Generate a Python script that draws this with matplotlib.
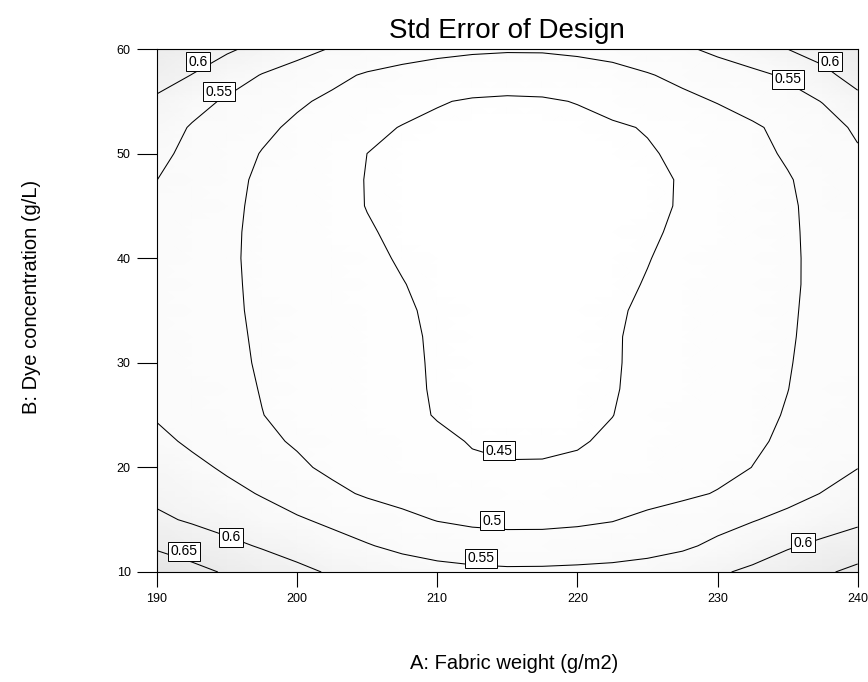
import matplotlib
matplotlib.use("Agg")
import matplotlib.pyplot as plt
import numpy as np
from matplotlib.colors import LinearSegmentedColormap

# grid: A (fabric weight) columns, B (dye conc.) rows
fabric_weight = [190, 192.5, 195, 197.5, 200, 202.5, 205, 207.5, 210, 212.5, 215,
                 217.5, 220, 222.5, 225, 227.5, 230, 232.5, 235, 237.5, 240]
dye_conc = [10, 12.5, 15, 17.5, 20, 22.5, 25, 27.5, 30, 32.5, 35,
            37.5, 40, 42.5, 45, 47.5, 50, 52.5, 55, 57.5, 60]

# std error of design, one row per dye concentration (bottom to top)
std_error = [
    [0.686, 0.664, 0.645, 0.628, 0.611, 0.595, 0.583, 0.574, 0.5655, 0.5605, 0.558, 0.5585, 0.5605, 0.563, 0.568, 0.5775, 0.594, 0.609, 0.626, 0.643, 0.662],
    [0.642, 0.627, 0.611, 0.596, 0.5816, 0.5672, 0.553, 0.5393, 0.529, 0.5224, 0.5193, 0.5194, 0.522, 0.5266, 0.5336, 0.543, 0.559, 0.5765, 0.5955, 0.61, 0.623],
    [0.608, 0.5947, 0.5814, 0.568, 0.5548, 0.5406, 0.5259, 0.5112, 0.4981, 0.4911, 0.4883, 0.4886, 0.492, 0.4978, 0.5104, 0.5228, 0.5351, 0.5475, 0.5617, 0.5764, 0.591],
    [0.589, 0.5753, 0.5616, 0.5471, 0.5287, 0.5103, 0.4946, 0.4843, 0.4766, 0.4716, 0.4692, 0.4694, 0.4717, 0.4761, 0.4826, 0.4912, 0.5026, 0.5189, 0.5351, 0.5515, 0.5698],
    [0.5747, 0.56, 0.5441, 0.5257, 0.5074, 0.4909, 0.4778, 0.4674, 0.4597, 0.4546, 0.4522, 0.4524, 0.4548, 0.4594, 0.4663, 0.4753, 0.4866, 0.5005, 0.5163, 0.5327, 0.549],
    [0.56, 0.5432, 0.526, 0.5089, 0.4953, 0.4856, 0.476, 0.4663, 0.4566, 0.4481, 0.4448, 0.4449, 0.4475, 0.4544, 0.4643, 0.4742, 0.4841, 0.494, 0.5068, 0.5239, 0.541],
    [0.546, 0.5309, 0.5157, 0.5006, 0.4901, 0.4798, 0.4694, 0.4591, 0.448, 0.4417, 0.4383, 0.4386, 0.4424, 0.4496, 0.46, 0.4704, 0.4809, 0.4913, 0.5022, 0.5161, 0.53],
    [0.5375, 0.5243, 0.5111, 0.4984, 0.4881, 0.4779, 0.4676, 0.4574, 0.4468, 0.4384, 0.4344, 0.4347, 0.4392, 0.4478, 0.4583, 0.4686, 0.4789, 0.4893, 0.4996, 0.5122, 0.525],
    [0.53, 0.5188, 0.5076, 0.4968, 0.4869, 0.4769, 0.4669, 0.457, 0.4462, 0.4368, 0.4324, 0.4328, 0.4377, 0.4471, 0.4577, 0.4679, 0.478, 0.4882, 0.4984, 0.5091, 0.52],
    [0.526, 0.516, 0.506, 0.496, 0.4861, 0.4762, 0.4663, 0.4564, 0.4454, 0.4359, 0.4314, 0.4318, 0.437, 0.4469, 0.4576, 0.4676, 0.4776, 0.4876, 0.4976, 0.5073, 0.517],
    [0.523, 0.5139, 0.5047, 0.4952, 0.4851, 0.475, 0.4649, 0.4548, 0.4435, 0.4346, 0.4304, 0.4308, 0.4357, 0.445, 0.4562, 0.4664, 0.4766, 0.4869, 0.4971, 0.5063, 0.515],
    [0.5225, 0.5134, 0.5044, 0.4944, 0.4836, 0.4728, 0.4621, 0.4513, 0.4402, 0.4328, 0.4293, 0.4297, 0.4336, 0.4413, 0.4522, 0.4633, 0.4743, 0.4854, 0.4965, 0.5057, 0.514],
    [0.524, 0.5142, 0.5043, 0.4934, 0.4816, 0.4698, 0.458, 0.4464, 0.4372, 0.4311, 0.4283, 0.4286, 0.4321, 0.4387, 0.4486, 0.4605, 0.4724, 0.4843, 0.4962, 0.5061, 0.515],
    [0.53, 0.5177, 0.5054, 0.4926, 0.4795, 0.4663, 0.4532, 0.4427, 0.4353, 0.4305, 0.4282, 0.4285, 0.4313, 0.4368, 0.4448, 0.4563, 0.4695, 0.4826, 0.4958, 0.5077, 0.519],
    [0.54, 0.5239, 0.5077, 0.4924, 0.4776, 0.4629, 0.4489, 0.4405, 0.4342, 0.4301, 0.4282, 0.4284, 0.4309, 0.4357, 0.4427, 0.4528, 0.467, 0.4812, 0.4955, 0.5102, 0.525],
    [0.5502, 0.5305, 0.5109, 0.4933, 0.478, 0.4628, 0.4486, 0.4407, 0.4348, 0.431, 0.4292, 0.4294, 0.4317, 0.4362, 0.4428, 0.4524, 0.4673, 0.4821, 0.497, 0.5156, 0.535],
    [0.56, 0.5392, 0.5183, 0.4981, 0.4821, 0.466, 0.4499, 0.4427, 0.4374, 0.4338, 0.4321, 0.4324, 0.4348, 0.4393, 0.446, 0.4579, 0.4732, 0.4884, 0.5049, 0.5254, 0.546],
    [0.572, 0.5463, 0.5276, 0.509, 0.492, 0.4765, 0.4611, 0.4481, 0.4425, 0.4389, 0.4372, 0.4374, 0.4399, 0.4446, 0.4527, 0.4665, 0.4802, 0.494, 0.5125, 0.5348, 0.556],
    [0.592, 0.566, 0.5439, 0.525, 0.5061, 0.4915, 0.479, 0.4665, 0.4525, 0.4466, 0.4445, 0.4459, 0.4515, 0.464, 0.4765, 0.489, 0.502, 0.5182, 0.5345, 0.5513, 0.586],
    [0.62, 0.599, 0.5729, 0.5478, 0.5294, 0.511, 0.4952, 0.4851, 0.4775, 0.4726, 0.4702, 0.4707, 0.4753, 0.484, 0.4969, 0.5112, 0.5251, 0.5389, 0.5563, 0.5875, 0.619],
    [0.64, 0.6248, 0.6065, 0.5865, 0.5662, 0.5468, 0.5326, 0.5213, 0.5129, 0.5073, 0.5047, 0.5051, 0.51, 0.5166, 0.5277, 0.5424, 0.5609, 0.5804, 0.6002, 0.619, 0.638],
]

contour_levels = [0.45, 0.5, 0.55, 0.6, 0.65]

# where the boxed level labels sit
label_spots = [
    (192.9, 58.8), (194.4, 55.9), (238.0, 58.8), (235.0, 57.1),
    (214.4, 21.6), (213.9, 14.9), (213.1, 11.3),
    (195.3, 13.3), (191.9, 12.0), (236.1, 12.8),
]

plt.rcParams['font.family'] = ['Liberation Sans', 'DejaVu Sans']

fig = plt.figure(figsize=(8.68, 6.82), dpi=100)
ax = fig.add_axes([157 / 868, 1 - 572 / 682, 700.7 / 868, 523 / 682])

X, Y = np.meshgrid(fabric_weight, dye_conc)
Z = np.array(std_error)

shade = LinearSegmentedColormap.from_list('se', ['#ffffff', '#fafafa', '#e4e4e4'])
ax.pcolormesh(X, Y, Z, shading='gouraud', cmap=shade, vmin=0.43, vmax=0.69)

cs = ax.contour(X, Y, Z, levels=contour_levels, colors='black', linewidths=0.75)
lbls = ax.clabel(cs, fmt='%g', inline=False, manual=label_spots, fontsize=10)
for t, spot in zip(lbls, label_spots):
    t.set_rotation(0)
    t.set_position(spot)
    t.set_bbox(dict(boxstyle='square,pad=0.18', fc='white', ec='black', lw=0.7))

ax.set_xlim(190, 240)
ax.set_ylim(10, 60)
ax.set_xticks([190, 200, 210, 220, 230, 240])
ax.set_yticks([10, 20, 30, 40, 50, 60])
ax.tick_params(axis='x', direction='out', length=10.8, width=0.8, pad=4.5, labelsize=9)
ax.tick_params(axis='y', direction='out', length=14.4, width=0.8, pad=4.5, labelsize=9)
for s in ax.spines.values():
    s.set_linewidth(0.8)

ax.set_title('Std Error of Design', fontsize=20, pad=8)
ax.set_xlabel('A: Fabric weight (g/m2)', fontsize=14.5)
ax.set_ylabel('B: Dye concentration (g/L)', fontsize=14.5)
ax.xaxis.set_label_coords(0.51, -0.157)
ax.yaxis.set_label_coords(-0.165, 0.526)

fig.savefig('out.png', dpi=100)
